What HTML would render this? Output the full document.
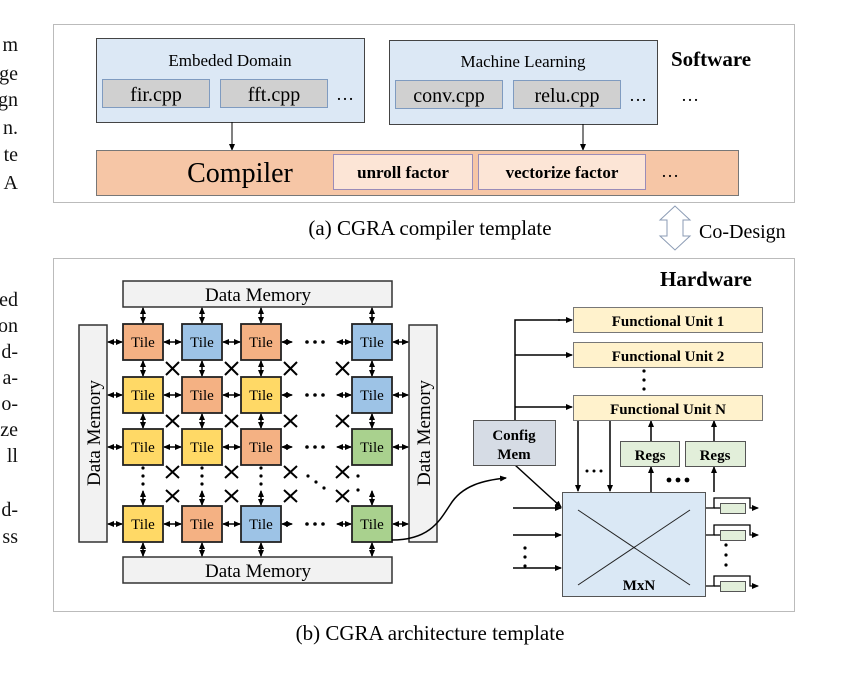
<!DOCTYPE html>
<html><head><meta charset="utf-8"><style>
body{margin:0;background:#fff;}
svg{display:block;font-family:"Liberation Serif",serif;}
</style></head><body>
<svg width="855" height="677" viewBox="0 0 855 677" xmlns="http://www.w3.org/2000/svg">
<defs>
<marker id="a" markerUnits="userSpaceOnUse" markerWidth="7" markerHeight="6" refX="6" refY="3" orient="auto"><path d="M0,0 L7,3 L0,6 z" fill="#000"/></marker>
<marker id="s" markerUnits="userSpaceOnUse" markerWidth="7" markerHeight="6" refX="1" refY="3" orient="auto"><path d="M7,0 L0,3 L7,6 z" fill="#000"/></marker>
</defs>
<g font-size="20" text-anchor="end" fill="#111">
<text x="18" y="51">m</text><text x="18" y="80">ge</text><text x="18" y="106">gn</text><text x="18" y="134">n.</text><text x="18" y="161">te</text><text x="18" y="189">A</text>
<text x="18" y="306">ed</text><text x="18" y="332">on</text><text x="18" y="358">d-</text><text x="18" y="384">a-</text><text x="18" y="410">o-</text><text x="18" y="436">ze</text><text x="18" y="462">ll</text><text x="18" y="516">d-</text><text x="18" y="543">ss</text>
</g>
<!-- Software -->
<rect x="53.5" y="24.5" width="741" height="178" fill="none" stroke="#777" stroke-dasharray="1,1"/>
<rect x="96.5" y="38.5" width="268" height="84" fill="#dce8f5" stroke="#444"/>
<text x="230" y="66" font-size="17" text-anchor="middle">Embeded Domain</text>
<rect x="102.5" y="79.5" width="107" height="28" fill="#d0d0d0" stroke="#7f9bc0"/>
<text x="156" y="101" font-size="20" text-anchor="middle">fir.cpp</text>
<rect x="220.5" y="79.5" width="107" height="28" fill="#d0d0d0" stroke="#7f9bc0"/>
<text x="274" y="101" font-size="20" text-anchor="middle">fft.cpp</text>
<text x="345" y="100" font-size="18" text-anchor="middle">…</text>
<rect x="389.5" y="40.5" width="268" height="84" fill="#dce8f5" stroke="#444"/>
<text x="523" y="67" font-size="17" text-anchor="middle">Machine Learning</text>
<rect x="395.5" y="80.5" width="107" height="28" fill="#d0d0d0" stroke="#7f9bc0"/>
<text x="449" y="102" font-size="20" text-anchor="middle">conv.cpp</text>
<rect x="513.5" y="80.5" width="107" height="28" fill="#d0d0d0" stroke="#7f9bc0"/>
<text x="567" y="102" font-size="20" text-anchor="middle">relu.cpp</text>
<text x="638" y="101" font-size="18" text-anchor="middle">…</text>
<text x="671" y="66" font-size="21" font-weight="bold">Software</text>
<text x="690" y="101" font-size="18" text-anchor="middle">…</text>
<line x1="232" y1="122" x2="232" y2="150" stroke="#000" marker-end="url(#a)"/>
<line x1="583" y1="124" x2="583" y2="150" stroke="#000" marker-end="url(#a)"/>
<rect x="96.5" y="150.5" width="642" height="45" fill="#f6c6a6" stroke="#777"/>
<text x="240" y="182" font-size="28" text-anchor="middle">Compiler</text>
<rect x="333.5" y="154.5" width="139" height="35" fill="#fce5d6" stroke="#9a8cb8"/>
<text x="403" y="178" font-size="17" font-weight="bold" text-anchor="middle">unroll factor</text>
<rect x="478.5" y="154.5" width="167" height="35" fill="#fce5d6" stroke="#9a8cb8"/>
<text x="562" y="178" font-size="17" font-weight="bold" text-anchor="middle">vectorize factor</text>
<text x="670" y="177" font-size="18" text-anchor="middle">…</text>
<text x="430" y="235" font-size="21" text-anchor="middle">(a) CGRA compiler template</text>
<path d="M675,206 L660,220 L667,220 L667,236 L660,236 L675,250 L690,236 L683,236 L683,220 L690,220 Z" fill="#fff" stroke="#8b9bb4" stroke-width="1"/>
<text x="699" y="238" font-size="20">Co-Design</text>
<!-- Hardware -->
<rect x="53.5" y="258.5" width="741" height="353" fill="none" stroke="#777" stroke-dasharray="1,1"/>
<text x="660" y="286" font-size="21" font-weight="bold">Hardware</text>
<g fill="#f2f2f2" stroke="#333" stroke-width="1.5">
<rect x="123" y="281" width="269" height="26"/>
<rect x="123" y="557" width="269" height="26"/>
<rect x="79" y="325" width="28" height="217"/>
<rect x="409" y="325" width="28" height="217"/>
</g>
<g font-size="19" text-anchor="middle">
<text x="258" y="301">Data Memory</text>
<text x="258" y="577">Data Memory</text>
<text transform="translate(100,433) rotate(-90)">Data Memory</text>
<text transform="translate(430,433) rotate(-90)">Data Memory</text>
</g>
<!-- arrows grid -->
<g stroke="#000" stroke-width="1.5" marker-end="url(#a)" marker-start="url(#s)">
<line x1="108" y1="342" x2="122" y2="342"/><line x1="164" y1="342" x2="181" y2="342"/><line x1="223" y1="342" x2="240" y2="342"/><line x1="282" y1="342" x2="292" y2="342"/><line x1="337" y1="342" x2="351" y2="342"/><line x1="393" y1="342" x2="408" y2="342"/>
<line x1="108" y1="395" x2="122" y2="395"/><line x1="164" y1="395" x2="181" y2="395"/><line x1="223" y1="395" x2="240" y2="395"/><line x1="282" y1="395" x2="292" y2="395"/><line x1="337" y1="395" x2="351" y2="395"/><line x1="393" y1="395" x2="408" y2="395"/>
<line x1="108" y1="447" x2="122" y2="447"/><line x1="164" y1="447" x2="181" y2="447"/><line x1="223" y1="447" x2="240" y2="447"/><line x1="282" y1="447" x2="292" y2="447"/><line x1="337" y1="447" x2="351" y2="447"/><line x1="393" y1="447" x2="408" y2="447"/>
<line x1="108" y1="524" x2="122" y2="524"/><line x1="164" y1="524" x2="181" y2="524"/><line x1="223" y1="524" x2="240" y2="524"/><line x1="282" y1="524" x2="292" y2="524"/><line x1="337" y1="524" x2="351" y2="524"/><line x1="393" y1="524" x2="408" y2="524"/>
<line x1="143" y1="308" x2="143" y2="323"/><line x1="202" y1="308" x2="202" y2="323"/><line x1="261" y1="308" x2="261" y2="323"/><line x1="372" y1="308" x2="372" y2="323"/>
<line x1="143" y1="361" x2="143" y2="376"/><line x1="202" y1="361" x2="202" y2="376"/><line x1="261" y1="361" x2="261" y2="376"/><line x1="372" y1="361" x2="372" y2="376"/>
<line x1="143" y1="414" x2="143" y2="428"/><line x1="202" y1="414" x2="202" y2="428"/><line x1="261" y1="414" x2="261" y2="428"/><line x1="372" y1="414" x2="372" y2="428"/>
<line x1="143" y1="491" x2="143" y2="505"/><line x1="202" y1="491" x2="202" y2="505"/><line x1="261" y1="491" x2="261" y2="505"/><line x1="372" y1="491" x2="372" y2="505"/>
<line x1="143" y1="543" x2="143" y2="556"/><line x1="202" y1="543" x2="202" y2="556"/><line x1="261" y1="543" x2="261" y2="556"/><line x1="372" y1="543" x2="372" y2="556"/>
</g>
<g stroke="#000" stroke-width="2">
<path d="M166,362 l13,13 M179,362 l-13,13 M225,362 l13,13 M238,362 l-13,13 M284,362 l13,13 M297,362 l-13,13 M336,362 l13,13 M349,362 l-13,13"/>
<path d="M166,415 l13,12 M179,415 l-13,12 M225,415 l13,12 M238,415 l-13,12 M284,415 l13,12 M297,415 l-13,12 M336,415 l13,12 M349,415 l-13,12"/>
<path d="M166,466 l13,12 M179,466 l-13,12 M225,466 l13,12 M238,466 l-13,12 M284,466 l13,12 M297,466 l-13,12 M336,466 l13,12 M349,466 l-13,12"/>
<path d="M166,490 l13,12 M179,490 l-13,12 M225,490 l13,12 M238,490 l-13,12 M284,490 l13,12 M297,490 l-13,12 M336,490 l13,12 M349,490 l-13,12"/>
</g>
<g fill="#000">
<circle cx="307" cy="342" r="1.8"/><circle cx="315" cy="342" r="1.8"/><circle cx="323" cy="342" r="1.8"/>
<circle cx="307" cy="395" r="1.8"/><circle cx="315" cy="395" r="1.8"/><circle cx="323" cy="395" r="1.8"/>
<circle cx="307" cy="447" r="1.8"/><circle cx="315" cy="447" r="1.8"/><circle cx="323" cy="447" r="1.8"/>
<circle cx="307" cy="524" r="1.8"/><circle cx="315" cy="524" r="1.8"/><circle cx="323" cy="524" r="1.8"/>
<circle cx="143" cy="468" r="1.6"/><circle cx="143" cy="476" r="1.6"/><circle cx="143" cy="484" r="1.6"/>
<circle cx="202" cy="468" r="1.6"/><circle cx="202" cy="476" r="1.6"/><circle cx="202" cy="484" r="1.6"/>
<circle cx="261" cy="468" r="1.6"/><circle cx="261" cy="476" r="1.6"/><circle cx="261" cy="484" r="1.6"/>
<circle cx="308" cy="476" r="1.6"/><circle cx="316" cy="482" r="1.6"/><circle cx="324" cy="488" r="1.6"/>
<circle cx="358" cy="476" r="1.6"/><circle cx="358" cy="490" r="1.6"/>
</g>
<!-- tiles -->
<g stroke="#222" stroke-width="1.8">
<rect x="123" y="324" width="40" height="36" fill="#f4b183"/><rect x="182" y="324" width="40" height="36" fill="#9dc3e6"/><rect x="241" y="324" width="40" height="36" fill="#f4b183"/><rect x="352" y="324" width="40" height="36" fill="#9dc3e6"/>
<rect x="123" y="377" width="40" height="36" fill="#ffd966"/><rect x="182" y="377" width="40" height="36" fill="#f4b183"/><rect x="241" y="377" width="40" height="36" fill="#ffd966"/><rect x="352" y="377" width="40" height="36" fill="#9dc3e6"/>
<rect x="123" y="429" width="40" height="36" fill="#ffd966"/><rect x="182" y="429" width="40" height="36" fill="#ffd966"/><rect x="241" y="429" width="40" height="36" fill="#f4b183"/><rect x="352" y="429" width="40" height="36" fill="#a9d18e"/>
<rect x="123" y="506" width="40" height="36" fill="#ffd966"/><rect x="182" y="506" width="40" height="36" fill="#f4b183"/><rect x="241" y="506" width="40" height="36" fill="#9dc3e6"/><rect x="352" y="506" width="40" height="36" fill="#a9d18e"/>
</g>
<g font-size="15" text-anchor="middle">
<text x="143" y="347">Tile</text><text x="202" y="347">Tile</text><text x="261" y="347">Tile</text><text x="372" y="347">Tile</text>
<text x="143" y="400">Tile</text><text x="202" y="400">Tile</text><text x="261" y="400">Tile</text><text x="372" y="400">Tile</text>
<text x="143" y="452">Tile</text><text x="202" y="452">Tile</text><text x="261" y="452">Tile</text><text x="372" y="452">Tile</text>
<text x="143" y="529">Tile</text><text x="202" y="529">Tile</text><text x="261" y="529">Tile</text><text x="372" y="529">Tile</text>
</g>
<path d="M392,540 C430,540 440,520 450,505 C462,485 485,480 506,478" fill="none" stroke="#000" stroke-width="1.5" marker-end="url(#a)"/>
<!-- right side -->
<g stroke="#000" stroke-width="1.5" fill="none">
<path d="M515,420 L515,320 L560,320"/><line x1="515" y1="355" x2="572" y2="355" marker-end="url(#a)"/><line x1="515" y1="407" x2="572" y2="407" marker-end="url(#a)"/>
<line x1="558" y1="320" x2="572" y2="320" marker-end="url(#a)"/>
<line x1="578" y1="420" x2="578" y2="491" marker-end="url(#a)"/><line x1="610" y1="420" x2="610" y2="491" marker-end="url(#a)"/>
<line x1="651" y1="492" x2="651" y2="467" marker-end="url(#a)"/><line x1="714" y1="492" x2="714" y2="467" marker-end="url(#a)"/>
<line x1="651" y1="441" x2="651" y2="421" marker-end="url(#a)"/><line x1="714" y1="441" x2="714" y2="421" marker-end="url(#a)"/>
<line x1="515" y1="465" x2="561" y2="507" marker-end="url(#a)"/>
<line x1="513" y1="508" x2="561" y2="508" marker-end="url(#a)"/><line x1="513" y1="535" x2="561" y2="535" marker-end="url(#a)"/><line x1="513" y1="568" x2="561" y2="568" marker-end="url(#a)"/>
</g>
<rect x="573.5" y="307.5" width="189" height="25" fill="#fff2cc" stroke="#777"/>
<text x="668" y="326" font-size="15" font-weight="bold" text-anchor="middle">Functional Unit 1</text>
<rect x="573.5" y="342.5" width="189" height="25" fill="#fff2cc" stroke="#777"/>
<text x="668" y="361" font-size="15" font-weight="bold" text-anchor="middle">Functional Unit 2</text>
<rect x="573.5" y="395.5" width="189" height="25" fill="#fff2cc" stroke="#777"/>
<text x="668" y="414" font-size="15" font-weight="bold" text-anchor="middle">Functional Unit N</text>
<g fill="#000"><circle cx="644" cy="371" r="1.6"/><circle cx="644" cy="380" r="1.6"/><circle cx="644" cy="389" r="1.6"/>
<circle cx="587" cy="471" r="1.5"/><circle cx="594" cy="471" r="1.5"/><circle cx="601" cy="471" r="1.5"/>
<circle cx="669" cy="480" r="2.4"/><circle cx="678" cy="480" r="2.4"/><circle cx="687" cy="480" r="2.4"/>
<circle cx="525" cy="548" r="1.6"/><circle cx="525" cy="557" r="1.6"/><circle cx="525" cy="566" r="1.6"/>
<circle cx="726" cy="545" r="1.6"/><circle cx="726" cy="555" r="1.6"/><circle cx="726" cy="565" r="1.6"/></g>
<rect x="473.5" y="420.5" width="82" height="45" fill="#d6dce5" stroke="#555"/>
<text x="514" y="440" font-size="15" font-weight="bold" text-anchor="middle">Config</text>
<text x="514" y="459" font-size="15" font-weight="bold" text-anchor="middle">Mem</text>
<rect x="620.5" y="441.5" width="59" height="25" fill="#e2efda" stroke="#555"/>
<text x="650" y="460" font-size="15" font-weight="bold" text-anchor="middle">Regs</text>
<rect x="685.5" y="441.5" width="60" height="25" fill="#e2efda" stroke="#555"/>
<text x="715" y="460" font-size="15" font-weight="bold" text-anchor="middle">Regs</text>
<rect x="562.5" y="492.5" width="143" height="104" fill="#dae8f5" stroke="#555"/>
<line x1="578" y1="510" x2="690" y2="585" stroke="#222"/><line x1="690" y1="510" x2="578" y2="585" stroke="#222"/>
<text x="639" y="590" font-size="15" font-weight="bold" text-anchor="middle">MxN</text>
<g stroke="#000" stroke-width="1.3" fill="none">
<path d="M706,508 H714 V498 H750 V508 H758" marker-end="url(#a)"/><path d="M714,508 H720"/>
<path d="M706,535 H714 V525 H750 V535 H758" marker-end="url(#a)"/><path d="M714,535 H720"/>
<path d="M706,586 H714 V576 H750 V586 H758" marker-end="url(#a)"/><path d="M714,586 H720"/>
</g>
<rect x="720.5" y="503.5" width="25" height="10" fill="#e2efda" stroke="#555"/>
<rect x="720.5" y="530.5" width="25" height="10" fill="#e2efda" stroke="#555"/>
<rect x="720.5" y="581.5" width="25" height="10" fill="#e2efda" stroke="#555"/>
<text x="430" y="640" font-size="21" text-anchor="middle">(b) CGRA architecture template</text>
</svg>
</body></html>
